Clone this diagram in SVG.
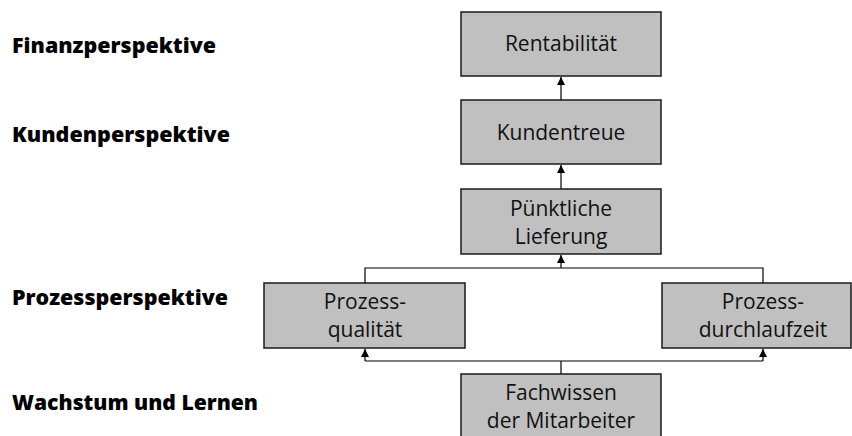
<svg xmlns="http://www.w3.org/2000/svg" width="852" height="436" viewBox="0 0 852 436">
<defs>
<marker id="ah" viewBox="0 0 10 10" refX="10" refY="5" markerWidth="9" markerHeight="8" markerUnits="userSpaceOnUse" orient="auto">
<path d="M0,0 L10,5 L0,10 z" fill="#000"/>
</marker>
<style>
.box{fill:#c0c0c0;stroke:#1a1a1a;stroke-width:1.5}
.t{font-family:"Open Sans","Noto Sans",sans-serif;font-size:21px;fill:#111;text-anchor:middle}
.lbl{font-family:"Open Sans","Noto Sans",sans-serif;font-size:21px;font-weight:800;fill:#000}
.c{fill:none;stroke:#000;stroke-width:1.2}
</style>
</defs>
<rect width="852" height="436" fill="#fff"/>
<g id="labels">
<text class="lbl" x="12" y="53" textLength="204" lengthAdjust="spacingAndGlyphs">Finanzperspektive</text>
<text class="lbl" x="12" y="142" textLength="218" lengthAdjust="spacingAndGlyphs">Kundenperspektive</text>
<text class="lbl" x="12" y="305" textLength="216" lengthAdjust="spacingAndGlyphs">Prozessperspektive</text>
<text class="lbl" x="12" y="410" textLength="246" lengthAdjust="spacingAndGlyphs">Wachstum und Lernen</text>
</g>
<g id="connectors">
<line class="c" x1="561" y1="100" x2="561" y2="77" marker-end="url(#ah)"/>
<line class="c" x1="561" y1="189" x2="561" y2="165" marker-end="url(#ah)"/>
<polyline class="c" points="365,283 365,268 763,268 763,283"/>
<line class="c" x1="561" y1="268" x2="561" y2="255" marker-end="url(#ah)"/>
<polyline class="c" points="561,374 561,361"/>
<polyline class="c" points="365,361 763,361"/>
<line class="c" x1="365" y1="361" x2="365" y2="349" marker-end="url(#ah)"/>
<line class="c" x1="763" y1="361" x2="763" y2="349" marker-end="url(#ah)"/>
</g>
<g id="rentabilitaet">
<rect class="box" x="461" y="12" width="200" height="64"/>
<text class="t" x="561" y="51">Rentabilität</text>
</g>
<g id="kundentreue">
<rect class="box" x="461" y="100" width="200" height="64"/>
<text class="t" x="561" y="140">Kundentreue</text>
</g>
<g id="puenktliche-lieferung">
<rect class="box" x="461" y="189" width="200" height="65"/>
<text class="t" x="561" y="216">Pünktliche</text>
<text class="t" x="561" y="244">Lieferung</text>
</g>
<g id="prozessqualitaet">
<rect class="box" x="264" y="283" width="201" height="65"/>
<text class="t" x="365" y="309">Prozess-</text>
<text class="t" x="365" y="337">qualität</text>
</g>
<g id="prozessdurchlaufzeit">
<rect class="box" x="662" y="283" width="189" height="65"/>
<text class="t" x="763" y="309">Prozess-</text>
<text class="t" x="763" y="337">durchlaufzeit</text>
</g>
<g id="fachwissen">
<rect class="box" x="461" y="374" width="200" height="66"/>
<text class="t" x="561" y="400">Fachwissen</text>
<text class="t" x="561" y="428">der Mitarbeiter</text>
</g>
</svg>
